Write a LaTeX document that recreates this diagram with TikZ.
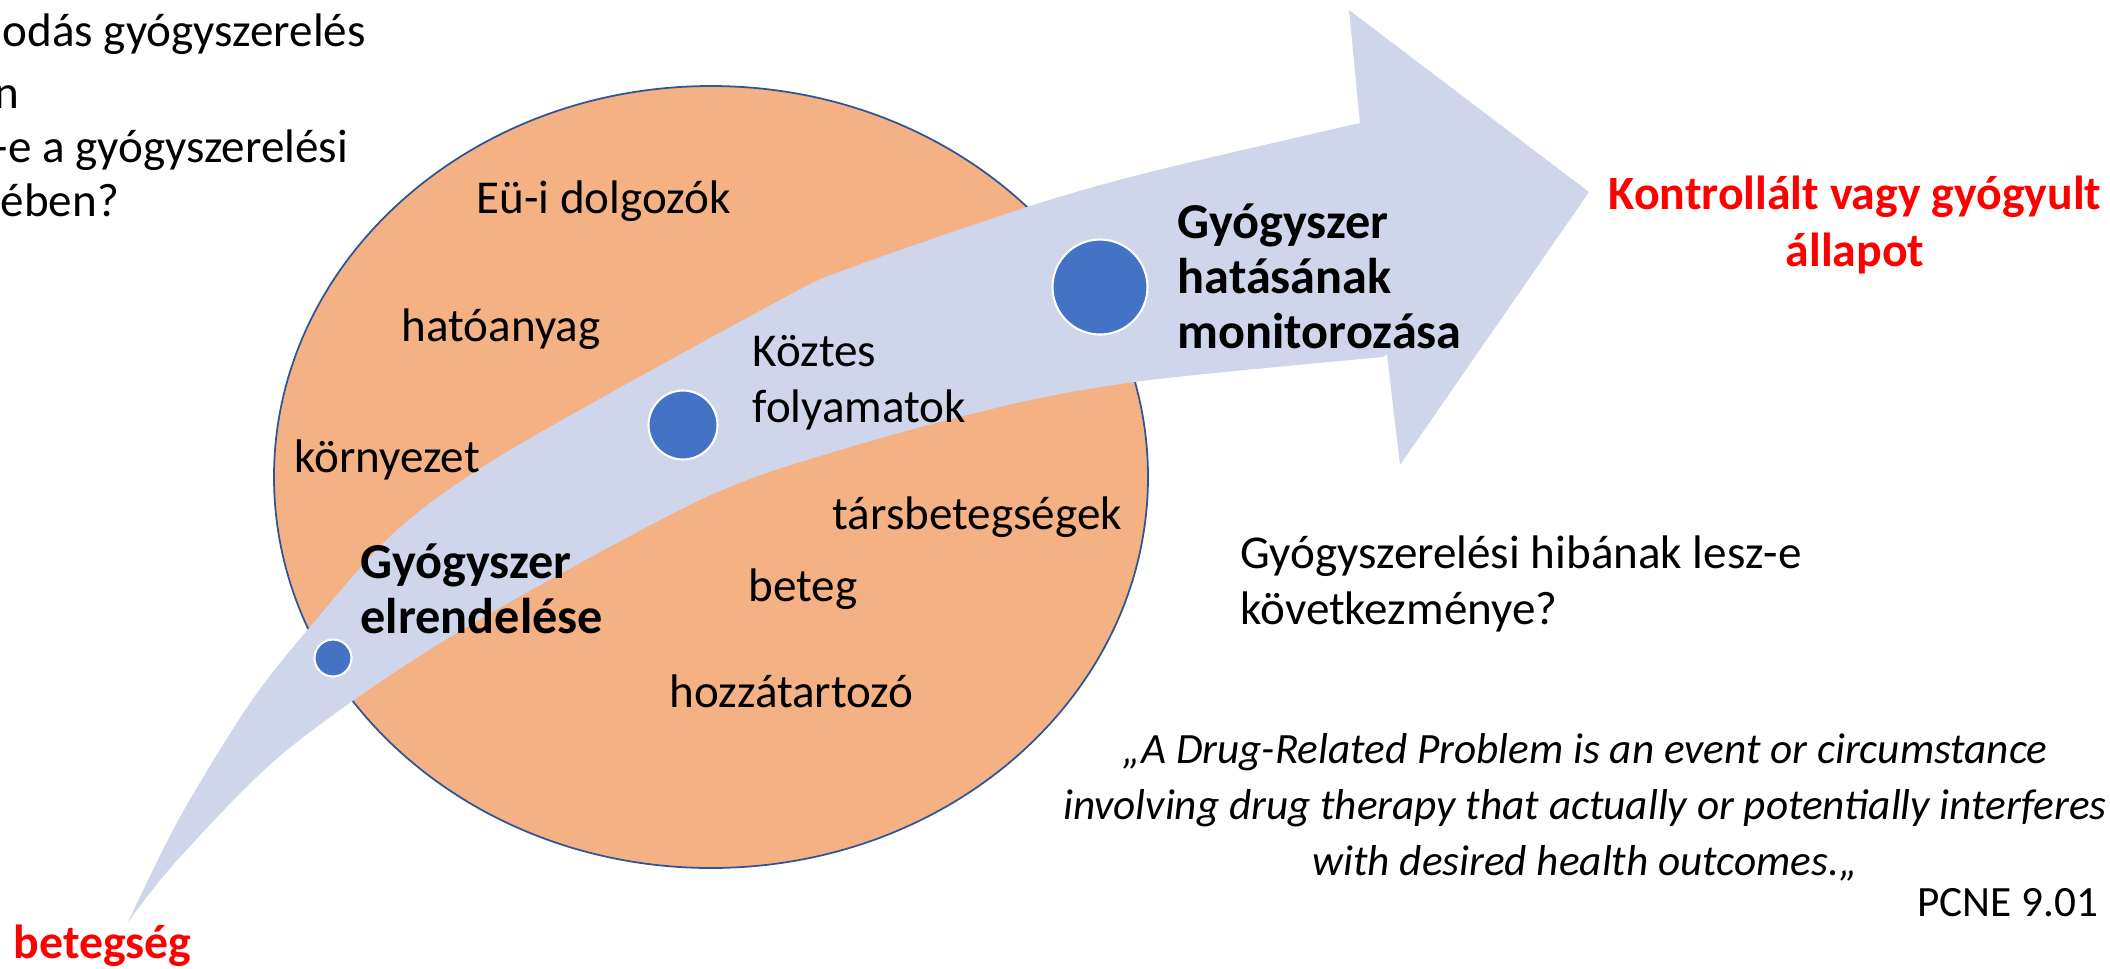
\documentclass[tikz,border=0pt]{standalone}
\usepackage{fontspec}
\setmainfont{Carlito}
\definecolor{fieldorange}{HTML}{F4B183}
\definecolor{fieldline}{HTML}{2F5597}
\definecolor{bandblue}{HTML}{CFD5EA}
\definecolor{dotblue}{HTML}{4472C4}
\definecolor{goalred}{HTML}{FF0000}
\newcommand{\bodyfont}{\fontsize{13.4}{15.9}\selectfont}

\begin{document}
\begin{tikzpicture}[x=0.1mm, y=-0.1mm, font=\bodyfont]
        \tikzset{
           txt/.style={
                        anchor=base west,
                        inner sep=0pt,
                        align=left,
                        text=black
                       },
           stage/.style={
                        txt,
                        font=\fontsize{14.3}{15.6}\selectfont\bfseries
                       },
           goal/.style={
                        anchor=base,
                        inner sep=0pt,
                        align=center,
                        text=goalred,
                        font=\fontsize{13.6}{16.2}\selectfont\bfseries
                       },
           pcneQuote/.style={
                        anchor=base,
                        inner sep=0pt,
                        align=center,
                        text=black,
                        font=\fontsize{12.3}{15.9}\selectfont\itshape
                       },
           stageDot/.style={
                        circle,
                        fill=dotblue,
                        draw=white,
                        line width=0.6pt,
                        inner sep=0pt
                       },
           field/.style={
                        fill=fieldorange,
                        draw=fieldline,
                        line width=0.5pt
                       },
           band/.style={
                        fill=bandblue
                       },
                 };
        \useasboundingbox (0,0) rectangle (2110,968);
    %--------------------
        \draw[field] (711,477) ellipse [x radius=437, y radius=391];

        \fill[band] plot[smooth] coordinates {(128,922) (180,817) (250,703) (310,627) (397,530)
                        (510,450) (780,300) (850,268) (1027,207) (1150,172) (1360,123)}
                    -- (1349,10) -- (1589,192) -- (1400,465) -- (1387,354)
                    -- plot[smooth] coordinates {(1383,357) (1150,380) (1017,403) (850,447)
                        (700,500) (450,637) (287,750) (180,857) (128,922)}
                    -- cycle;
    %--------------------
        \node[stageDot, minimum size=3.7mm] (dotOrder)   at (333,658)  {};
        \node[stageDot, minimum size=6.9mm] (dotMiddle)  at (683,425)  {};
        \node[stageDot, minimum size=9.5mm] (dotMonitor) at (1100,287) {};

        \node[stage] (order)   at (360,633)  {Gyógyszer\\elrendelése};
        \node[txt]   (middle)  at (752,422)  {Köztes\\folyamatok};
        \node[stage] (monitor) at (1177,348) {Gyógyszer\\hatásának\\monitorozása};

        \node[txt] (staff)     at (476,213) {Eü-i dolgozók};
        \node[txt] (agent)     at (401,341) {hatóanyag};
        \node[txt] (environ)   at (294,472) {környezet};
        \node[txt] (comorbid)  at (832,529) {társbetegségek};
        \node[txt] (patient)   at (748,601) {beteg};
        \node[txt] (relative)  at (669,707) {hozzátartozó};
    %--------------------
        \node[txt] (askA) at (2,46)   {odás gyógyszerelés};
        \node[txt] (askB) at (-6,108) {n};
        \node[txt] (askC) at (-7,162) {-e a gyógyszerelési};
        \node[txt] (askD) at (0,216)  {ében?};

        \node[txt] (consequence) at (1240,624) {Gyógyszerelési hibának lesz-e\\következménye?};

        \node[pcneQuote] (definition) at (1585,875) {„A Drug-Related Problem is an event or circumstance\\involving drug therapy that actually or potentially interferes\\with desired health outcomes.„};
        \node[txt, anchor=base east, font=\fontsize{12.3}{15.9}\selectfont] (source) at (2099,916) {PCNE 9.01};

        \node[goal] (healed)  at (1855,266) {Kontrollált vagy gyógyult\\állapot};
        \node[goal, anchor=base west] (disease) at (13,958) {betegség};
    \end{tikzpicture}
\end{document}
